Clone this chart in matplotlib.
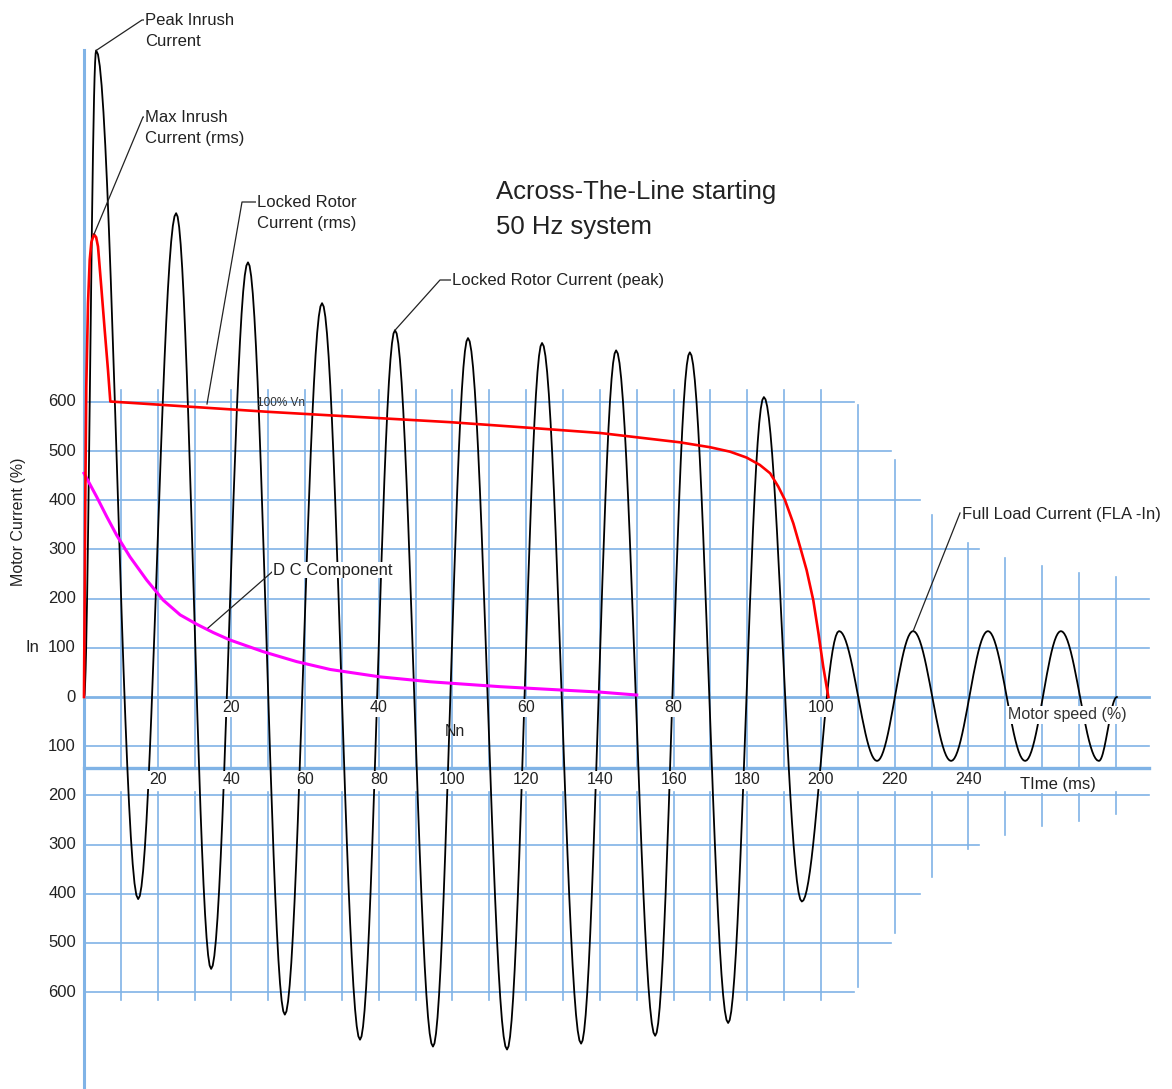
import numpy as np
import matplotlib
matplotlib.use('Agg')
import matplotlib.pyplot as plt

plt.rcParams['font.family'] = ['Liberation Sans', 'DejaVu Sans']

# --- data (time in ms, current in % of In) ---
# extremes of the instantaneous current wave (peak / trough), 50 Hz
wave_t = [0, 3.3, 14.7, 25.0, 34.5, 44.5, 54.5, 64.6, 74.9, 84.4, 94.7,
          104.2, 114.8, 124.3, 134.9, 144.4, 155.0, 164.4, 174.8, 184.5,
          194.8, 204.9, 215.2, 225.0, 235.3, 245.3, 255.4, 265.1, 275.4, 280.3]
wave_v = [0, 1315, -411, 984, -553, 884, -646, 801, -697, 746, -711,
          730, -717, 720, -705, 705, -689, 701, -663, 610,
          -416, 134, -130, 134, -130, 134, -130, 134, -130, 0]

# rms current (red)
rms_t = [0, 0.35, 0.62, 1.09, 1.55, 2.0, 2.71, 3.3, 3.8, 4.69, 5.62, 6.51, 7.14,
         50, 99.3, 120, 140, 161.7, 169.9, 175.3, 179.8, 183.4, 186.2, 188.4,
         190.2, 192.5, 194.3, 196.1, 197.9, 199.3, 200.6, 202.0]
rms_v = [0, 400, 631, 801, 889, 925, 941, 935, 916, 834, 746, 665, 601,
         580, 559, 548, 537, 518, 508, 499, 487, 472, 455, 428,
         401, 353, 306, 258, 197, 130, 62, 0]

# DC component (magenta)
dc_t = [0, 3.45, 6.16, 8.87, 12.48, 17.0, 21.5, 26.1, 30.6, 35.1, 39.6,
        48.7, 57.7, 66.8, 80.3, 93.9, 112.9, 130, 140, 150]
dc_v = [455, 407, 367, 329, 285, 238, 197, 167, 148, 131, 116,
        92, 72, 56, 41, 31, 21, 14, 10, 4]

current_ticks = [600, 500, 400, 300, 200, 100, 0, -100, -200, -300, -400, -500, -600]
speed_ticks = [20, 40, 60, 80, 100]
time_ticks = [20, 40, 60, 80, 100, 120, 140, 160, 180, 200, 220, 240]

# --- grid layout (stepped outline of the paper grid) ---
grid_t = list(range(10, 290, 10))
upper_top = [624] * 20 + [594, 482, 370, 313, 283, 266, 252, 244]
lower_bot = [-616] * 20 + [-590, -480, -366, -309, -281, -262, -252, -238]
h_right = [209, 219, 227, 243, 289, 289, 289, 289, 289, 243, 227, 219, 209]
TIME_AXIS = -145
LOWER_TOP = -193

BLUE = '#80B3E6'
INK = '#222222'

# pixel -> data helper for placing text (reference scale)
X0, Y0, SX, SY = 84, 697, 3.685, 0.49167


def px(x, y):
    return (x - X0) / SX, (Y0 - y) / SY


def half_cosine(ts, vs, n=24):
    xs, ys = [], []
    for i in range(len(ts) - 1):
        s = np.linspace(0, 1, n)
        xs.append(ts[i] + (ts[i + 1] - ts[i]) * s)
        ys.append(vs[i] + (vs[i + 1] - vs[i]) * (1 - np.cos(np.pi * s)) / 2)
    return np.concatenate(xs), np.concatenate(ys)


fig = plt.figure(figsize=(11.72, 10.89), dpi=100)
ax = fig.add_axes([0, 0, 1, 1])
ax.set_xlim(px(0, 0)[0], px(1172, 0)[0])
ax.set_ylim(px(0, 1089)[1], px(0, 0)[1])
ax.axis('off')

# grid
for t, top, bot in zip(grid_t, upper_top, lower_bot):
    ax.plot([t, t], [top, TIME_AXIS], color=BLUE, lw=1.2, zorder=1)
    ax.plot([t, t], [LOWER_TOP, bot], color=BLUE, lw=1.2, zorder=1)
for lev, right in zip(current_ticks, h_right):
    ax.plot([0, right], [lev, lev], color=BLUE, lw=2.0 if lev == 0 else 1.2, zorder=1)
ax.plot([0, 289], [TIME_AXIS, TIME_AXIS], color=BLUE, lw=2.4, zorder=1)
ax.plot([0, 0], [px(0, 50)[1], px(0, 1089)[1]], color=BLUE, lw=2.2, zorder=1)

# curves
wx, wy = half_cosine(wave_t, wave_v)
ax.plot(wx, wy, color='black', lw=1.3, zorder=3)
ax.plot(dc_t, dc_v, color='#FF00FF', lw=2.2, zorder=4)
ax.plot(rms_t, rms_v, color='#FF0000', lw=1.9, zorder=4)

# tick labels
box = dict(facecolor='white', edgecolor='none', pad=1.0)
for v in current_ticks:
    ax.text(px(76, 0)[0], v, str(abs(v)), ha='right', va='center', fontsize=12, color=INK)
for s in speed_ticks:
    ax.text(2 * s, px(0, 708)[1], str(s), ha='center', va='center', fontsize=11.5,
            color=INK, bbox=box, zorder=6)
for t in time_ticks:
    ax.text(t, px(0, 780)[1], str(t), ha='center', va='center', fontsize=11.5,
            color=INK, bbox=box, zorder=6)

ax.text(*px(19, 522), 'Motor Current (%)', rotation=90, ha='center', va='center',
        fontsize=11.5, color=INK)
ax.text(*px(32, 648), 'In', ha='center', va='center', fontsize=12, color=INK)
ax.text(*px(455, 732), 'Nn', ha='center', va='center', fontsize=11.5, color=INK, zorder=6)
ax.text(*px(1008, 715), 'Motor speed (%)', ha='left', va='center', fontsize=11.5,
        color='#333333', bbox=box, zorder=6)
ax.text(*px(1020, 784), 'TIme (ms)', ha='left', va='center', fontsize=12,
        color=INK, bbox=box, zorder=6)
ax.text(*px(257, 403), '100% Vn', ha='left', va='center', fontsize=8.5, color='#333333', zorder=5)

# title
ax.text(*px(496, 192), 'Across-The-Line starting', ha='left', va='center', fontsize=18.5, color=INK)
ax.text(*px(496, 227), '50 Hz system', ha='left', va='center', fontsize=18.5, color=INK)


# annotations with leader lines
def leader(points, text, tpos):
    xs = [p[0] for p in points]
    ys = [p[1] for p in points]
    ax.plot(xs, ys, color=INK, lw=0.9, zorder=5)
    ax.text(*tpos, text, ha='left', va='center', fontsize=12, color=INK,
            linespacing=1.45, zorder=6, bbox=dict(facecolor='white', edgecolor='none', pad=0.5))


leader([(wave_t[1], wave_v[1]), px(142, 20), px(146, 20)],
       'Peak Inrush\nCurrent', px(145, 31))
leader([(rms_t[6], rms_v[6]), px(143, 117), px(146, 117)],
       'Max Inrush\nCurrent (rms)', px(145, 128))
leader([px(207, 404), px(242, 202), px(256, 202)],
       'Locked Rotor\nCurrent (rms)', px(257, 213))
leader([(wave_t[9], wave_v[9]), px(440, 280), px(452, 280)],
       'Locked Rotor Current (peak)', px(452, 280))
leader([px(208, 628), px(272, 572)],
       'D C Component', px(273, 570))
leader([(wave_t[23], wave_v[23]), px(960, 513)],
       'Full Load Current (FLA -In)', px(962, 514))

fig.savefig('out.png', dpi=100, facecolor='white')
